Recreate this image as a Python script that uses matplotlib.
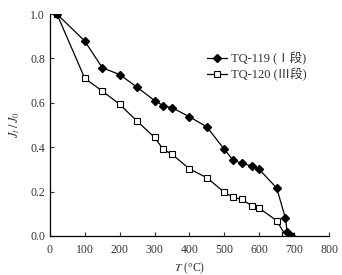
import matplotlib.pyplot as plt

plt.rcParams['font.family'] = ['Liberation Serif', 'Noto Sans CJK SC']
plt.rcParams['mathtext.fontset'] = 'stix'

# TQ-119 (I segment)
t_119 = [20, 100, 150, 200, 250, 300, 325, 350, 400, 450, 500, 525, 550, 580, 600, 650, 675, 680, 690]
j_119 = [1.0, 0.878, 0.758, 0.727, 0.670, 0.610, 0.587, 0.578, 0.537, 0.491, 0.390, 0.342, 0.327,
         0.315, 0.300, 0.216, 0.081, 0.02, 0.0]

# TQ-120 (III segment)
t_120 = [20, 100, 150, 200, 250, 300, 325, 350, 400, 450, 500, 525, 550, 580, 600, 650, 675, 690]
j_120 = [1.0, 0.710, 0.653, 0.593, 0.517, 0.444, 0.39, 0.368, 0.302, 0.262, 0.197, 0.174, 0.165,
         0.135, 0.125, 0.069, 0.004, 0.0]

x_ticks = [0, 100, 200, 300, 400, 500, 600, 700, 800]
y_ticks = [0.0, 0.2, 0.4, 0.6, 0.8, 1.0]

fig = plt.figure(figsize=(3.42, 2.75), dpi=100)
ax = fig.add_axes([0.146, 0.142, 0.816, 0.807])

ax.plot(t_119, j_119, color='black', linewidth=0.9, marker='D', markersize=3.6,
        markerfacecolor='black', label='TQ-119 (Ⅰ段)', zorder=3)
ax.plot(t_120, j_120, color='black', linewidth=0.9, marker='s', markersize=5,
        markerfacecolor='white', markeredgewidth=0.8, label='TQ-120 (Ⅲ段)', zorder=2)

ax.set_xlim(0, 800)
ax.set_ylim(0, 1.0)
ax.set_xticks(x_ticks)
ax.set_yticks(y_ticks)
ax.set_yticklabels([f'{v:.1f}' for v in y_ticks])
ax.tick_params(direction='in', length=3, width=0.8, labelsize=8.5, colors='#333333')
ax.tick_params(axis='x', pad=6)
ax.spines['top'].set_visible(False)
ax.spines['right'].set_visible(False)
for s in ('left', 'bottom'):
    ax.spines[s].set_linewidth(0.9)

ax.set_xlabel(r'$T$ (°C)', fontsize=8.5, color='#333333', labelpad=3)
ax.set_ylabel(r'$J_t\,/\,J_0$', fontsize=9, color='#333333', labelpad=6)

leg = ax.legend(loc='upper left', bbox_to_anchor=(0.545, 0.85), frameon=False, fontsize=9,
                handlelength=1.6, handletextpad=0.3, labelspacing=0.2, borderaxespad=0)
for t in leg.get_texts():
    t.set_color('#333333')

fig.savefig('out.png', dpi=100)
